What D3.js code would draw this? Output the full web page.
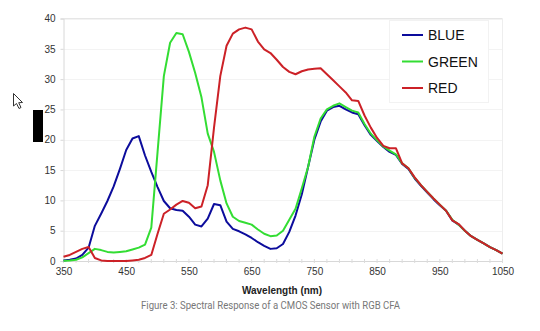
<!DOCTYPE html>
<html><head><meta charset="utf-8">
<script src="https://cdn.jsdelivr.net/npm/d3@7/dist/d3.min.js"></script>
<style>body{margin:0;background:#fff}svg{display:block}</style>
</head><body>
<svg id="c" width="540" height="331"></svg>
<script>
const wavelengths = [350,360,370,380,390,400,410,420,430,440,450,460,470,480,490,500,510,520,530,540,550,560,570,580,590,600,610,620,630,640,650,660,670,680,690,700,710,720,730,740,750,760,770,780,790,800,810,820,830,840,850,860,870,880,890,900,910,920,930,940,950,960,970,980,990,1000,1010,1020,1030,1040,1050];
const blue = [0.1,0.2,0.4,1.0,2.2,5.8,7.8,9.9,12.3,15.2,18.3,20.2,20.6,17.4,14.7,12.2,9.9,8.7,8.4,8.3,7.3,6.0,5.7,7.0,9.4,9.2,6.5,5.3,4.9,4.4,3.8,3.1,2.5,2.0,2.1,2.8,4.8,7.5,11.0,15.5,20.0,23.0,24.8,25.4,25.6,25.0,24.5,24.2,22.4,20.8,19.8,18.8,18.0,17.5,16.0,15.2,13.6,12.4,11.3,10.2,9.2,8.3,6.7,6.0,5.0,4.1,3.5,2.9,2.3,1.8,1.2];
const green = [0.05,0.1,0.2,0.6,1.3,2.0,1.8,1.5,1.4,1.5,1.6,1.9,2.2,2.7,5.5,18.0,30.5,36.0,37.6,37.4,34.5,31.0,27.0,21.0,18.0,13.3,9.5,7.3,6.6,6.3,6.0,5.2,4.5,4.1,4.2,5.0,6.8,8.6,12.0,15.5,20.5,23.5,25.0,25.6,26.0,25.4,24.8,24.5,22.6,21.0,19.9,18.9,18.2,17.6,16.1,15.3,13.7,12.5,11.4,10.3,9.3,8.3,6.8,6.0,5.0,4.1,3.5,2.9,2.3,1.8,1.2];
const red = [0.7,1.0,1.5,2.0,2.3,0.5,0.1,0.0,0.0,0.0,0.0,0.1,0.2,0.5,1.0,4.5,7.8,8.5,9.3,9.9,9.6,8.7,9.0,12.5,22.0,30.5,35.5,37.5,38.2,38.5,38.2,36.2,34.9,34.3,33.2,32.0,31.2,30.8,31.3,31.6,31.7,31.8,30.8,29.8,28.8,27.8,26.5,26.4,24.0,22.0,20.3,19.0,18.6,18.6,16.1,15.3,13.8,12.5,11.4,10.3,9.3,8.3,6.7,6.1,5.0,4.1,3.5,2.9,2.3,1.8,1.2];
const seriesNames = ["BLUE","GREEN","RED"];
const seriesColors = ["#0c0c9c","#33dd33","#cc2127"];
const xTicks = [350,450,550,650,750,850,950,1050];
const yTicks = [0,5,10,15,20,25,30,35,40];
const xTitle = "Wavelength (nm)";
const caption = "Figure 3: Spectral Response of a CMOS Sensor with RGB CFA";

const svg = d3.select("#c");
const L = 63.5, R = 502.5, T = 18.5, B = 261;
const x = d3.scaleLinear().domain([350,1050]).range([L,R]);
const y = d3.scaleLinear().domain([0,40]).range([B,T]);

// gridlines
svg.append("g").selectAll("line").data(yTicks.slice(1)).join("line")
  .attr("x1",L).attr("x2",R).attr("y1",d=>Math.round(y(d))+0.5).attr("y2",d=>Math.round(y(d))+0.5)
  .attr("stroke","#f3f3f3").attr("stroke-width",1);
// frame
svg.append("line").attr("x1",L).attr("x2",R).attr("y1",T).attr("y2",T).attr("stroke","#e6e6e6");
svg.append("line").attr("x1",R).attr("x2",R).attr("y1",T).attr("y2",B).attr("stroke","#eeeeee");

// axes
const yAxis = svg.append("g").attr("transform",`translate(${L},0)`)
  .call(d3.axisLeft(y).tickValues(yTicks).tickSize(3).tickPadding(5));
yAxis.select(".domain").attr("stroke","#d8d8d8");
yAxis.selectAll(".tick line").attr("stroke","#d8d8d8");
yAxis.selectAll("text").attr("font-family","Liberation Sans, Arial, sans-serif").attr("font-size",10).attr("fill","#333");

const minor = wavelengths.filter((d,i)=>i%2===0);
const xAxis = svg.append("g").attr("transform",`translate(0,${B})`)
  .call(d3.axisBottom(x).tickValues(xTicks).tickFormat(d3.format("d")).tickSize(0).tickPadding(7));
xAxis.select(".domain").attr("stroke","#d8d8d8");
xAxis.selectAll("text").attr("font-family","Liberation Sans, Arial, sans-serif").attr("font-size",10).attr("fill","#333");
svg.append("g").selectAll("line").data(minor).join("line")
  .attr("x1",d=>x(d)).attr("x2",d=>x(d)).attr("y1",B-2).attr("y2",B+2).attr("stroke","#dcdcdc");

// lines
const data = [blue, green, red];
const line = d3.line().x((d,i)=>x(wavelengths[i])).y(d=>y(d));
svg.append("g").selectAll("path").data(data).join("path")
  .attr("d",d=>line(d)).attr("fill","none")
  .attr("stroke",(d,i)=>seriesColors[i]).attr("stroke-width",2).attr("stroke-linejoin","round");

// legend
const lg = svg.append("g");
lg.append("rect").attr("x",389.5).attr("y",20.5).attr("width",99).attr("height",82).attr("fill","#fff").attr("stroke","#f2f2f2");
seriesNames.forEach((n,i)=>{
  const yy = 35 + i*26.5;
  lg.append("line").attr("x1",402).attr("x2",423).attr("y1",yy).attr("y2",yy).attr("stroke",seriesColors[i]).attr("stroke-width",2);
  lg.append("text").attr("x",428).attr("y",yy+5).text(n).attr("font-family","Liberation Sans, Arial, sans-serif").attr("font-size",14).attr("fill","#111");
});

// titles
svg.append("text").attr("x",282).attr("y",294).attr("text-anchor","middle").text(xTitle)
  .attr("font-family","Liberation Sans, Arial, sans-serif").attr("font-weight","bold").attr("font-size",10).attr("fill","#222");
svg.append("text").attr("x",141).attr("y",309).text(caption).attr("textLength",259).attr("lengthAdjust","spacingAndGlyphs")
  .attr("font-family","Roboto, sans-serif").attr("font-size",11).attr("fill","#777");

// screenshot artifacts: cursor and black marker
svg.append("rect").attr("x",33).attr("y",110).attr("width",10).attr("height",32).attr("fill","#000");
svg.append("path").attr("d","M13.5,93.5 L13.5,106 L16.5,103.5 L19,108.5 L21,107.5 L18.7,102.7 L22.5,102.5 Z")
  .attr("fill","#fff").attr("stroke","#333").attr("stroke-width",1);
</script>
</body></html>
